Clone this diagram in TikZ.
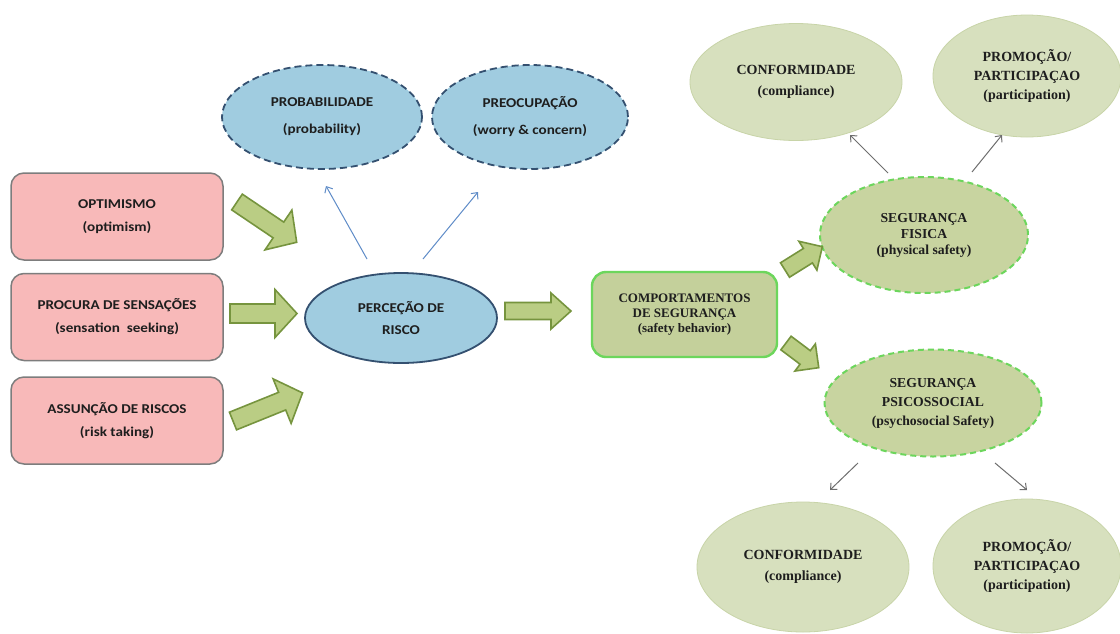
\documentclass[tikz,border=0pt]{standalone}
\usepackage{fontspec}
\setmainfont{Liberation Serif}
\newfontfamily\carl[FakeStretch=1.12]{Carlito}
\usetikzlibrary{shapes.geometric,arrows.meta}
\definecolor{pinkf}{RGB}{248,185,185}
\definecolor{boxgray}{RGB}{125,125,125}
\definecolor{bluef}{RGB}{160,204,224}
\definecolor{bluedark}{RGB}{52,80,112}
\definecolor{bluearr}{RGB}{95,140,200}
\definecolor{fatf}{RGB}{186,205,132}
\definecolor{fatd}{RGB}{118,148,62}
\definecolor{compf}{RGB}{196,208,155}
\definecolor{brightg}{RGB}{108,214,92}
\definecolor{segf}{RGB}{200,212,160}
\definecolor{palef}{RGB}{215,224,190}
\definecolor{paled}{RGB}{200,212,168}
\definecolor{grayarr}{RGB}{110,110,110}
\definecolor{txt}{RGB}{30,30,30}
\newcommand\fatarrow[7]{% tail x, tail y, angle, length, shaft half, head half, head length
  \begin{scope}[shift={(#1,#2)},rotate=#3]
    \draw[fatarr] (0,-#5) -- ({#4-#7},-#5) -- ({#4-#7},-#6) -- (#4,0) -- ({#4-#7},#6) -- ({#4-#7},#5) -- (0,#5) -- cycle;
  \end{scope}}
\begin{document}
\begin{tikzpicture}[x=1pt,y=-1pt,
  fatarr/.style={draw=fatd,fill=fatf,line width=1.6pt,line join=miter},
  pinkbox/.style={draw=boxgray,fill=pinkf,line width=1.5pt,rounded corners=13pt,
    minimum width=212pt,minimum height=87pt,align=center,text=txt,
    font=\carl\bfseries\fontsize{13.5}{23}\selectfont},
  blueell/.style={ellipse,draw=bluedark,fill=bluef,line width=1.8pt,inner sep=0pt,
    align=center,text=txt,font=\carl\bfseries\fontsize{13.5}{22}\selectfont},
  bluedash/.style={blueell,dash pattern=on 7pt off 4pt},
  compbox/.style={draw=brightg,fill=compf,line width=2.4pt,rounded corners=14pt,
    minimum width=185pt,minimum height=85pt,align=center,text=txt,
    font=\bfseries\fontsize{13}{15}\selectfont},
  segell/.style={ellipse,draw=brightg,fill=segf,line width=2pt,dash pattern=on 6pt off 4pt,
    inner sep=0pt,align=center,text=txt,font=\bfseries\fontsize{13.7}{16}\selectfont},
  paleell/.style={ellipse,draw=paled,fill=palef,line width=0.8pt,inner sep=0pt,
    align=center,text=txt,font=\bfseries\fontsize{14}{21}\selectfont},
  bluethin/.style={draw=bluearr,line width=1pt,-{Straight Barb[length=5pt,width=9pt]}},
  graythin/.style={draw=grayarr,line width=1pt,-{Straight Barb[length=5pt,width=9pt]}}
]
\useasboundingbox (0,0) rectangle (1120,633);
\fill[white] (0,0) rectangle (1120,633);

% left boxes
\node[pinkbox] (opt) at (117,216.5) {OPTIMISMO\\(optimism)};
\node[pinkbox] (proc) at (117,317) {PROCURA DE SENSAÇÕES\\(sensation\ \ seeking)};
\node[pinkbox] (assu) at (117,420.5) {ASSUNÇÃO DE RISCOS\\(risk taking)};

% blue ellipses
\node[blueell,minimum width=192pt,minimum height=90pt] (perc) at (401,318) {PERCEÇÃO DE\\RISCO};
\node[bluedash,minimum width=200pt,minimum height=104pt,font=\carl\bfseries\fontsize{13.5}{27}\selectfont] (prob) at (322,117) {PROBABILIDADE\\(probability)};
\node[bluedash,minimum width=196pt,minimum height=104pt,font=\carl\bfseries\fontsize{13.5}{27}\selectfont] (preo) at (530,117) {PREOCUPAÇÃO\\(worry \& concern)};

% green
\node[compbox] (comp) at (684.5,314.5) {COMPORTAMENTOS\\DE SEGURANÇA\\(safety behavior)};
\node[segell,minimum width=208pt,minimum height=116pt] (fis) at (924,235) {SEGURANÇA\\FISICA\\(physical safety)};
\node[segell,minimum width=217pt,minimum height=107pt,font=\bfseries\fontsize{13.7}{19}\selectfont] (psi) at (933,403) {SEGURANÇA\\PSICOSSOCIAL\\(psychosocial Safety)};
\node[paleell,minimum width=212pt,minimum height=117pt] (conf1) at (796,82) {CONFORMIDADE\\(compliance)};
\node[paleell,minimum width=188pt,minimum height=122pt,font=\bfseries\fontsize{14}{19}\selectfont] (prom1) at (1027,76) {PROMOÇÃO/\\PARTICIPAÇAO\\(participation)};
\node[paleell,minimum width=212pt,minimum height=130pt] (conf2) at (803,567) {CONFORMIDADE\\(compliance)};
\node[paleell,minimum width=188pt,minimum height=134pt,font=\bfseries\fontsize{14}{19}\selectfont] (prom2) at (1027,566) {PROMOÇÃO/\\PARTICIPAÇAO\\(participation)};

% fat arrows
\fatarrow{237}{202}{-34}{72}{9.5}{24}{22}
\fatarrow{230}{313.5}{0}{67}{9.5}{24}{22}
\fatarrow{233}{421}{22}{75}{9.5}{24}{22}
\fatarrow{505}{311}{0}{66}{8.5}{18}{20}
\fatarrow{785}{270}{32}{44}{8.5}{17}{17}
\fatarrow{786}{343}{-37}{41}{8.5}{17}{17}

% thin arrows
\coordinate (pa1) at (367,259); \coordinate (pb1) at (326,186);
\coordinate (pa2) at (423,259); \coordinate (pb2) at (478,192);
\draw[bluethin] (pa1) -- (pb1);
\draw[bluethin] (pa2) -- (pb2);
\coordinate (fa1) at (888,173); \coordinate (fb1) at (850,135);
\coordinate (fa2) at (972,172); \coordinate (fb2) at (1002,135);
\draw[graythin] (fa1) -- (fb1);
\draw[graythin] (fa2) -- (fb2);
\coordinate (sa1) at (858,463); \coordinate (sb1) at (830,490);
\coordinate (sa2) at (995,463); \coordinate (sb2) at (1027,490);
\draw[graythin] (sa1) -- (sb1);
\draw[graythin] (sa2) -- (sb2);
\end{tikzpicture}
\end{document}
